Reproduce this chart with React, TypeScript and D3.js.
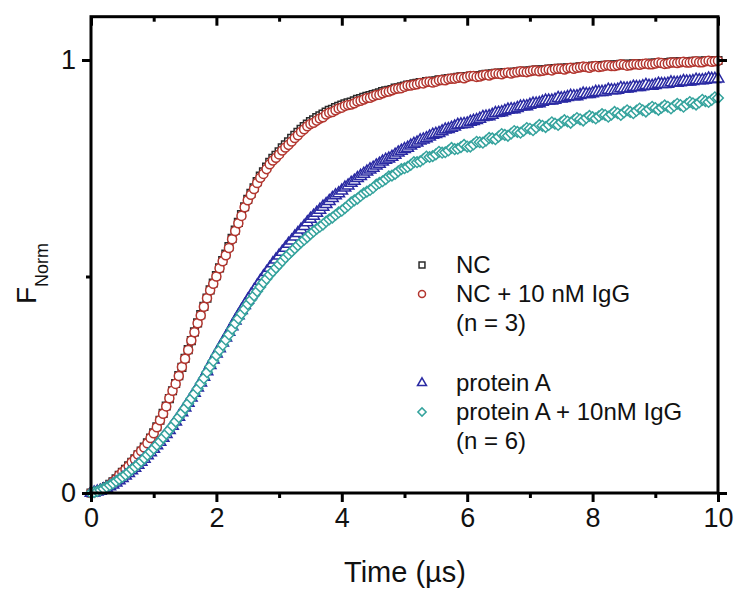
import React, { useEffect, useRef } from 'react';
import * as d3 from 'd3';

// time axis: 0 .. 10 µs, one sample every 0.05 µs
const TIME = d3.range(201).map((i) => i / 20);

// each row = 0.5 µs
const NC = [
  0.000, 0.002, 0.004, 0.007, 0.011, 0.015, 0.020, 0.026, 0.033, 0.041,
  0.048, 0.055, 0.063, 0.071, 0.079, 0.088, 0.097, 0.106, 0.116, 0.127,
  0.139, 0.153, 0.168, 0.184, 0.201, 0.218, 0.236, 0.253, 0.271, 0.290,
  0.311, 0.331, 0.352, 0.372, 0.393, 0.412, 0.431, 0.450, 0.469, 0.485,
  0.502, 0.520, 0.537, 0.552, 0.569, 0.588, 0.607, 0.625, 0.643, 0.661,
  0.678, 0.692, 0.705, 0.719, 0.732, 0.742, 0.753, 0.764, 0.773, 0.780,
  0.788, 0.797, 0.804, 0.811, 0.819, 0.826, 0.833, 0.840, 0.846, 0.852,
  0.858, 0.862, 0.867, 0.871, 0.875, 0.880, 0.884, 0.886, 0.890, 0.893,
  0.896, 0.899, 0.901, 0.903, 0.906, 0.909, 0.911, 0.914, 0.916, 0.918,
  0.920, 0.922, 0.924, 0.927, 0.929, 0.930, 0.932, 0.935, 0.936, 0.938,
  0.940, 0.942, 0.943, 0.945, 0.946, 0.948, 0.948, 0.950, 0.951, 0.951,
  0.952, 0.954, 0.955, 0.956, 0.957, 0.958, 0.958, 0.960, 0.961, 0.961,
  0.962, 0.963, 0.964, 0.964, 0.964, 0.966, 0.967, 0.967, 0.968, 0.969,
  0.969, 0.970, 0.971, 0.971, 0.971, 0.972, 0.973, 0.974, 0.974, 0.974,
  0.975, 0.976, 0.977, 0.977, 0.977, 0.978, 0.979, 0.979, 0.980, 0.981,
  0.981, 0.981, 0.982, 0.982, 0.982, 0.983, 0.984, 0.985, 0.985, 0.985,
  0.986, 0.986, 0.986, 0.987, 0.988, 0.988, 0.988, 0.989, 0.989, 0.990,
  0.990, 0.990, 0.990, 0.991, 0.991, 0.991, 0.992, 0.992, 0.992, 0.993,
  0.993, 0.994, 0.994, 0.994, 0.994, 0.995, 0.995, 0.995, 0.996, 0.996,
  0.996, 0.996, 0.997, 0.997, 0.997, 0.997, 0.998, 0.998, 0.998, 0.999,
  0.999,
];

const NC_IGG = [
  0.000, 0.002, 0.004, 0.006, 0.010, 0.014, 0.019, 0.026, 0.032, 0.041,
  0.048, 0.054, 0.062, 0.071, 0.078, 0.089, 0.097, 0.105, 0.115, 0.127,
  0.138, 0.152, 0.168, 0.183, 0.200, 0.219, 0.236, 0.252, 0.270, 0.291,
  0.310, 0.330, 0.352, 0.371, 0.392, 0.410, 0.430, 0.450, 0.468, 0.483,
  0.500, 0.519, 0.535, 0.549, 0.566, 0.586, 0.605, 0.623, 0.640, 0.660,
  0.676, 0.689, 0.702, 0.716, 0.728, 0.737, 0.748, 0.759, 0.768, 0.774,
  0.782, 0.791, 0.798, 0.804, 0.812, 0.820, 0.826, 0.834, 0.840, 0.847,
  0.852, 0.855, 0.860, 0.865, 0.868, 0.874, 0.878, 0.880, 0.884, 0.888,
  0.890, 0.894, 0.896, 0.897, 0.900, 0.904, 0.906, 0.909, 0.912, 0.913,
  0.916, 0.919, 0.920, 0.923, 0.926, 0.927, 0.930, 0.933, 0.934, 0.935,
  0.938, 0.941, 0.941, 0.943, 0.944, 0.947, 0.946, 0.949, 0.950, 0.948,
  0.950, 0.953, 0.954, 0.953, 0.956, 0.957, 0.957, 0.959, 0.960, 0.958,
  0.961, 0.963, 0.963, 0.961, 0.962, 0.965, 0.966, 0.964, 0.967, 0.969,
  0.968, 0.967, 0.970, 0.971, 0.969, 0.971, 0.972, 0.974, 0.973, 0.972,
  0.974, 0.976, 0.976, 0.974, 0.975, 0.977, 0.978, 0.976, 0.979, 0.980,
  0.980, 0.978, 0.981, 0.982, 0.980, 0.982, 0.983, 0.985, 0.984, 0.982,
  0.985, 0.986, 0.984, 0.985, 0.987, 0.988, 0.986, 0.986, 0.988, 0.990,
  0.989, 0.987, 0.988, 0.990, 0.990, 0.989, 0.991, 0.992, 0.990, 0.990,
  0.992, 0.994, 0.993, 0.991, 0.992, 0.994, 0.994, 0.993, 0.995, 0.996,
  0.994, 0.994, 0.996, 0.997, 0.995, 0.995, 0.997, 0.998, 0.996, 0.997,
  0.998,
];

const PROT_A = [
  0.000, 0.001, 0.003, 0.005, 0.008, 0.011, 0.015, 0.019, 0.024, 0.029,
  0.034, 0.040, 0.046, 0.052, 0.058, 0.065, 0.072, 0.079, 0.087, 0.094,
  0.102, 0.110, 0.118, 0.127, 0.136, 0.145, 0.155, 0.165, 0.176, 0.186,
  0.197, 0.208, 0.220, 0.231, 0.243, 0.255, 0.268, 0.281, 0.295, 0.308,
  0.322, 0.334, 0.347, 0.359, 0.372, 0.385, 0.398, 0.410, 0.422, 0.434,
  0.446, 0.457, 0.468, 0.479, 0.490, 0.500, 0.510, 0.520, 0.530, 0.539,
  0.548, 0.557, 0.566, 0.575, 0.583, 0.592, 0.600, 0.608, 0.616, 0.625,
  0.633, 0.640, 0.647, 0.654, 0.661, 0.667, 0.674, 0.681, 0.687, 0.692,
  0.698, 0.705, 0.710, 0.716, 0.721, 0.727, 0.732, 0.737, 0.742, 0.747,
  0.751, 0.756, 0.760, 0.765, 0.769, 0.772, 0.776, 0.781, 0.786, 0.790,
  0.794, 0.797, 0.802, 0.806, 0.809, 0.814, 0.816, 0.819, 0.823, 0.827,
  0.829, 0.831, 0.835, 0.839, 0.840, 0.843, 0.846, 0.850, 0.851, 0.852,
  0.853, 0.857, 0.859, 0.861, 0.864, 0.868, 0.869, 0.870, 0.873, 0.877,
  0.878, 0.879, 0.882, 0.885, 0.886, 0.886, 0.889, 0.892, 0.893, 0.893,
  0.896, 0.899, 0.899, 0.900, 0.903, 0.906, 0.906, 0.906, 0.908, 0.912,
  0.911, 0.912, 0.914, 0.917, 0.916, 0.916, 0.919, 0.922, 0.921, 0.921,
  0.923, 0.926, 0.926, 0.926, 0.927, 0.931, 0.930, 0.930, 0.931, 0.935,
  0.934, 0.934, 0.935, 0.938, 0.937, 0.937, 0.939, 0.942, 0.940, 0.940,
  0.942, 0.945, 0.944, 0.944, 0.945, 0.948, 0.947, 0.947, 0.948, 0.951,
  0.950, 0.950, 0.951, 0.954, 0.953, 0.953, 0.954, 0.957, 0.956, 0.956,
  0.957,
];

const PROT_A_IGG = [
  0.000, 0.002, 0.004, 0.007, 0.010, 0.014, 0.018, 0.022, 0.027, 0.032,
  0.037, 0.042, 0.048, 0.054, 0.060, 0.066, 0.073, 0.080, 0.088, 0.095,
  0.103, 0.111, 0.119, 0.128, 0.137, 0.146, 0.155, 0.165, 0.175, 0.185,
  0.196, 0.207, 0.218, 0.229, 0.241, 0.253, 0.265, 0.279, 0.292, 0.305,
  0.318, 0.330, 0.342, 0.354, 0.366, 0.379, 0.392, 0.403, 0.414, 0.425,
  0.436, 0.446, 0.456, 0.466, 0.476, 0.486, 0.495, 0.504, 0.512, 0.520,
  0.528, 0.536, 0.544, 0.551, 0.558, 0.565, 0.572, 0.579, 0.585, 0.591,
  0.598, 0.604, 0.610, 0.615, 0.620, 0.627, 0.632, 0.636, 0.642, 0.648,
  0.652, 0.658, 0.664, 0.671, 0.676, 0.680, 0.686, 0.692, 0.696, 0.700,
  0.705, 0.712, 0.716, 0.720, 0.725, 0.731, 0.733, 0.737, 0.743, 0.748,
  0.750, 0.753, 0.758, 0.764, 0.764, 0.766, 0.771, 0.777, 0.776, 0.778,
  0.782, 0.788, 0.786, 0.787, 0.791, 0.797, 0.794, 0.795, 0.799, 0.804,
  0.800, 0.800, 0.805, 0.811, 0.810, 0.809, 0.814, 0.820, 0.819, 0.817,
  0.823, 0.829, 0.827, 0.825, 0.830, 0.836, 0.834, 0.832, 0.837, 0.843,
  0.841, 0.838, 0.844, 0.850, 0.848, 0.845, 0.850, 0.856, 0.853, 0.850,
  0.856, 0.861, 0.858, 0.855, 0.861, 0.866, 0.863, 0.860, 0.866, 0.871,
  0.868, 0.865, 0.870, 0.875, 0.873, 0.869, 0.874, 0.880, 0.877, 0.873,
  0.879, 0.884, 0.880, 0.877, 0.883, 0.888, 0.884, 0.881, 0.887, 0.892,
  0.889, 0.885, 0.890, 0.895, 0.892, 0.888, 0.894, 0.899, 0.896, 0.892,
  0.898, 0.903, 0.900, 0.897, 0.902, 0.908, 0.905, 0.903, 0.908, 0.914,
  0.912,
];

const X_TICKS = [0, 2, 4, 6, 8, 10];
const X_MINOR = [1, 3, 5, 7, 9];
const Y_TICKS = [0, 1];
const Y_MINOR = [0.5];

const SERIES = [
  { name: 'NC', values: NC, color: '#2b2b2b', shape: 'square' },
  { name: 'NC + 10 nM IgG', values: NC_IGG, color: '#b3362f', shape: 'circle' },
  { name: 'protein A', values: PROT_A, color: '#2a2aa3', shape: 'triangle' },
  { name: 'protein A + 10nM IgG', values: PROT_A_IGG, color: '#35a39d', shape: 'diamond' },
];

const FONT = '"Liberation Sans", Arial, sans-serif';

const symbolFor = (shape: string, scale: number) => {
  if (shape === 'circle') return d3.symbol(d3.symbolCircle, 64 * scale);
  if (shape === 'triangle') return d3.symbol(d3.symbolTriangle, 58 * scale);
  if (shape === 'diamond') return d3.symbol(d3.symbolSquare, 56 * scale);
  return d3.symbol(d3.symbolSquare, 58 * scale);
};

export default function App() {
  const ref = useRef<SVGSVGElement>(null);

  useEffect(() => {
    const svg = d3.select(ref.current);
    svg.selectAll('*').remove();

    const x = d3.scaleLinear().domain([0, 10]).range([91, 718]);
    const y = d3.scaleLinear().domain([0, 1]).range([493, 60]);
    const yTop = y(1.1);

    // data markers
    SERIES.forEach((s) => {
      const sym = symbolFor(s.shape, 1);
      svg.append('g')
        .selectAll('path')
        .data(s.values)
        .enter()
        .append('path')
          .attr('d', sym() as string)
          .attr('transform', (d, i) =>
            `translate(${x(TIME[i])},${y(d)})${s.shape === 'diamond' ? ' rotate(45)' : ''}`)
          .attr('fill', 'white')
          .attr('stroke', s.color)
          .attr('stroke-width', 1.5);
    });

    // axes with mirror ticks
    const axisStyle = (g: any) => {
      g.select('.domain').remove();
      g.selectAll('line').attr('stroke', '#000').attr('stroke-width', 3);
      g.selectAll('text').attr('font-family', FONT).attr('fill', '#111');
    };

    svg.append('g')
      .attr('transform', `translate(0,${y(0)})`)
      .call(d3.axisBottom(x).tickValues(X_TICKS).tickSize(9).tickPadding(6).tickFormat(d3.format('d')))
      .call(axisStyle)
      .selectAll('text').attr('font-size', 27);
    svg.append('g')
      .attr('transform', `translate(0,${y(0)})`)
      .call(d3.axisBottom(x).tickValues(X_MINOR).tickSize(5).tickFormat(() => ''))
      .call(axisStyle);

    svg.append('g')
      .attr('transform', `translate(0,${yTop})`)
      .call(d3.axisBottom(x).tickValues(X_TICKS).tickSize(9).tickFormat(() => ''))
      .call(axisStyle);
    svg.append('g')
      .attr('transform', `translate(0,${yTop})`)
      .call(d3.axisBottom(x).tickValues(X_MINOR).tickSize(5).tickFormat(() => ''))
      .call(axisStyle);

    svg.append('g')
      .attr('transform', `translate(${x(0)},0)`)
      .call(d3.axisLeft(y).tickValues(Y_TICKS).tickSize(9).tickPadding(6).tickFormat(d3.format('d')))
      .call(axisStyle)
      .selectAll('text').attr('font-size', 27);
    svg.append('g')
      .attr('transform', `translate(${x(0)},0)`)
      .call(d3.axisLeft(y).tickValues(Y_MINOR).tickSize(5).tickFormat(() => ''))
      .call(axisStyle);

    svg.append('g')
      .attr('transform', `translate(${x(10)},0)`)
      .call(d3.axisRight(y).tickValues(Y_TICKS).tickSize(9).tickFormat(() => ''))
      .call(axisStyle);

    // frame
    svg.append('rect')
      .attr('x', x(0))
      .attr('y', yTop)
      .attr('width', x(10) - x(0))
      .attr('height', y(0) - yTop)
      .attr('fill', 'none')
      .attr('stroke', '#000')
      .attr('stroke-width', 3);

    // axis titles
    svg.append('text')
      .attr('x', 405)
      .attr('y', 582)
      .attr('text-anchor', 'middle')
      .attr('font-family', FONT)
      .attr('font-size', 29)
      .attr('fill', '#111')
      .text('Time (µs)');

    const yl = svg.append('text')
      .attr('transform', 'translate(36,304) rotate(-90)')
      .attr('font-family', FONT)
      .attr('font-size', 28)
      .attr('fill', '#111');
    yl.append('tspan').text('F');
    yl.append('tspan').attr('dy', 12).attr('font-size', 18).text('Norm');

    // legend
    const legendRows = [
      { s: 0, text: 'NC', yText: 273 },
      { s: 1, text: 'NC + 10 nM IgG', yText: 302 },
      { s: -1, text: '(n = 3)', yText: 331 },
      { s: 2, text: 'protein A', yText: 391 },
      { s: 3, text: 'protein A + 10nM IgG', yText: 420 },
      { s: -1, text: '(n = 6)', yText: 449 },
    ];
    const lg = svg.append('g');
    legendRows.forEach((r) => {
      if (r.s >= 0) {
        const s = SERIES[r.s];
        lg.append('path')
          .attr('d', symbolFor(s.shape, 0.6)() as string)
          .attr('transform', `translate(422,${r.yText - 8})${s.shape === 'diamond' ? ' rotate(45)' : ''}`)
          .attr('fill', 'white')
          .attr('stroke', s.color)
          .attr('stroke-width', 1.5);
      }
      lg.append('text')
        .attr('x', 456)
        .attr('y', r.yText)
        .attr('font-family', FONT)
        .attr('font-size', 24)
        .attr('fill', '#111')
        .text(r.text);
    });
  }, []);

  return (
    <div style={{ position: 'absolute', left: 0, top: 0 }}>
      <svg ref={ref} width={736} height={591} style={{ display: 'block', background: '#fff' }} />
    </div>
  );
}
